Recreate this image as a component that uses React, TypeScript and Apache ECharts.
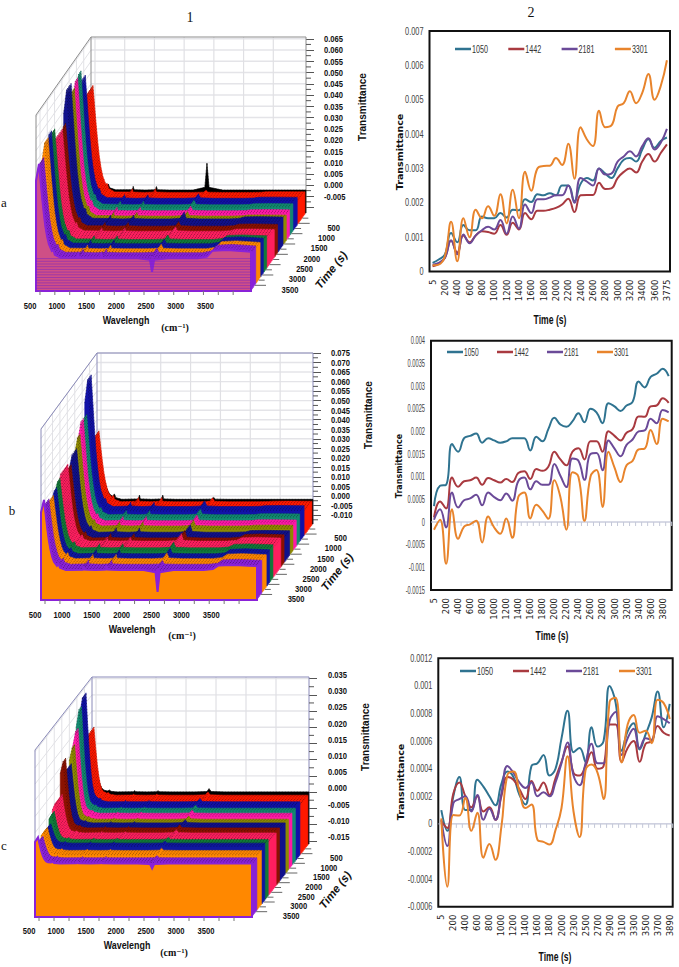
import React, { useEffect, useRef } from "react";
import * as echarts from "echarts";

// ---------- right-hand charts (values in 1e-3 transmittance) ----------
const NAMES = ["1050", "1442", "2181", "3301"];
const LINE_COLORS = ["#2f7390", "#a93a40", "#6b4a98", "#e8842c"];

const timeA = ["5","100","200","300","400","500","600","700","800","900","1000","1100","1200","1300","1400","1500","1600","1700","1800","1900","2000","2100","2200","2300","2400","2500","2600","2700","2800","2900","3000","3100","3200","3300","3400","3500","3600","3700","3775"];
const a1050 = [.25,.35,.5,1.12,.85,1.35,1.2,1.2,1.6,1.55,1.55,1.7,1.57,1.8,1.78,2.1,2.02,2.25,2.22,2.28,2.22,2.5,2.5,2.05,2.55,2.72,2.65,3.0,2.85,2.72,3.0,3.25,3.3,3.2,3.55,3.85,3.6,3.8,3.9];
const a1442 = [.15,.22,.4,.9,.55,1.05,.85,1.05,1.17,1.15,1.1,1.35,1.07,1.42,1.22,1.7,1.52,1.77,1.77,1.8,1.85,1.95,2.12,1.73,2.22,2.23,2.23,2.58,2.4,2.42,2.72,2.9,3.0,2.88,3.2,3.42,3.2,3.45,3.7];
const a2181 = [.2,.25,.4,.9,.5,1.08,.82,1.05,1.2,1.3,1.22,1.5,1.1,1.6,1.25,1.95,1.7,2.1,2.1,2.15,2.22,2.22,2.5,2.0,2.72,2.62,2.5,3.0,2.82,2.85,3.2,3.35,3.5,3.35,3.65,3.88,3.55,3.75,4.15];
const a3301 = [.18,.2,.45,1.45,.3,1.55,1.0,1.8,1.55,1.9,1.62,2.25,1.4,2.38,1.55,2.9,2.35,3.0,3.07,3.08,3.3,3.1,3.72,2.7,4.2,3.85,3.65,4.68,4.2,4.25,4.8,4.9,5.25,4.9,5.2,5.75,5.0,5.4,6.15];
const ticksRA = [0,.001,.002,.003,.004,.005,.006,.007];
const labelsRA = ["0","0.001","0.002","0.003","0.004","0.005","0.006","0.007"];

const timeB = ["5","100","200","300","400","500","600","700","800","900","1000","1100","1200","1300","1400","1500","1600","1700","1800","1900","2000","2100","2200","2300","2400","2500","2600","2700","2800","2900","3000","3100","3200","3300","3400","3500","3600","3700","3800","3900"];
const b1050 = [.35,.8,.82,1.72,1.55,1.85,1.9,1.95,1.75,1.85,1.8,1.75,1.78,1.85,1.85,1.85,1.58,1.88,1.78,2.05,2.3,2.15,2.1,2.22,2.4,2.2,2.5,2.42,2.18,2.62,2.55,2.45,2.57,2.65,3.1,2.97,3.2,3.27,3.38,3.22];
const b1442 = [.1,.45,.3,.98,.78,.9,.92,.98,.82,.97,.92,.87,.95,.88,1.08,1.12,.95,1.17,1.13,1.22,1.55,1.38,1.25,1.55,1.63,1.38,1.78,1.78,1.55,2.0,1.9,1.8,1.97,2.05,2.33,2.32,2.55,2.57,2.73,2.63];
const b2181 = [.05,.28,-.12,.65,.32,.48,.52,.6,.37,.65,.55,.48,.63,.47,.9,.98,.72,.9,.82,.82,1.28,1.02,.77,1.4,1.35,.93,1.5,1.52,1.14,1.8,1.62,1.45,1.7,1.82,2.0,2.02,2.28,2.18,2.47,2.42];
const b3301 = [-.17,.05,-.92,.28,-.37,-.1,-.05,.03,-.45,.12,-.12,-.26,.08,-.35,.55,.65,.08,.38,.25,.07,.92,.55,-.17,1.1,1.0,.03,1.0,1.15,.33,1.55,1.2,.88,1.25,1.35,1.6,1.62,2.03,1.72,2.28,2.22];
const ticksRB = [-.0015,-.001,-.0005,0,.0005,.001,.0015,.002,.0025,.003,.0035,.004];
const labelsRB = ["-0.0015","-0.001","-0.0005","0","0.0005","0.001","0.0015","0.002","0.0025","0.003","0.0035","0.004"];

const timeC = ["5","100","200","300","400","500","600","700","800","900","1000","1100","1200","1300","1400","1500","1600","1700","1800","1900","2000","2200","2300","2400","2500","2600","2700","2800","2900","3000","3100","3200","3300","3400","3500","3600","3700","3800","3890"];
const c1050 = [.1,-.05,.2,.34,.1,.1,.32,.27,.2,.135,.29,.38,.34,.21,.14,.42,.44,.5,.35,.4,.62,.82,.52,.55,.45,.7,.56,.6,1.0,.88,.53,.67,.73,.54,.65,.77,.96,.7,.87];
const c1442 = [.02,-.03,.22,.3,.2,.12,.2,.09,.12,.03,.2,.34,.32,.25,.18,.31,.24,.3,.21,.33,.45,.56,.37,.35,.42,.52,.4,.42,.72,.72,.45,.55,.6,.45,.58,.6,.71,.66,.64];
const c2181 = [.03,-.16,.15,.18,.2,.09,.21,.03,.11,.03,.22,.42,.37,.3,.26,.3,.2,.23,.2,.3,.44,.59,.35,.28,.44,.58,.44,.44,.75,.81,.5,.62,.69,.55,.62,.61,.78,.76,.73];
const c3301 = [.04,-.455,.065,.06,.19,-.05,.08,-.245,-.145,-.26,-.02,.355,.38,.235,.115,.14,-.115,-.13,-.15,-.045,.115,.49,.09,-.095,.39,.43,.37,.18,.885,.915,.445,.72,.79,.66,.675,.585,.9,.875,.76];
const ticksRC = [-.0006,-.0004,-.0002,0,.0002,.0004,.0006,.0008,.001,.0012];
const labelsRC = ["-0.0006","-0.0004","-0.0002","0","0.0002","0.0004","0.0006","0.0008","0.001","0.0012"];

// ---------- left-hand 3D waterfall charts ----------
const sliceTimes = [5,75,150,225,300,375,450,525,600,675,750,825,900,975,1050,1125,1200,1275,1350,1425,1500,1575,1650,1725,1800,1875,1950,2025,2100,2175,2250,2325,2400,2475,2550,2625,2700,2775,2850,2925,3000,3075,3150,3225,3300,3375,3450,3525,3600,3675,3750,3775];
const bandTimes = [5,75,600,830,1060,1300,1550,1890,2110,2640,2900,3130,3400,3775];
const bandColors = ["#000000","#ff1a00","#1212a8","#128a70","#ff1aa8","#8f8a00","#12128c","#8b1200","#ff2060","#127a3a","#1018a0","#ff8800","#8a22d8","#ff8800"];

const wave = [683,733,760,790,815,840,870,900,950,975,1000,1100,1380,1395,1410,1600,1770,1785,1800,2000,2400,2600,2635,2670,2900,3400,3560,3650,3900,4300];
const decayA = [.82,1,.82,.62,.47,.34,.23,.15,.07,.05,.03,.005,0,0,0,0,0,0,0,0,0,0,0,0,0,0,0,0,0,0];
const decayB = [.82,1,.8,.58,.42,.3,.19,.12,.05,.03,.02,0,0,0,0,0,0,0,0,0,0,0,0,0,0,0,0,0,0,0];
const decayC = [.82,1,.72,.45,.28,.16,.08,.05,.025,.02,.01,0,0,0,0,0,0,0,0,0,0,0,0,0,0,0,0,0,0,0];
const bumpShape = [0,0,0,0,0,0,0,0,.2,1,.2,0,.1,1,.1,0,.1,1,.1,0,0,0,0,0,0,0,0,0,0,0];
const spikeShape = [0,0,0,0,0,0,0,0,0,0,0,0,0,0,0,0,0,0,0,0,0,.1,1,.1,0,0,0,0,0,0];
const riseShape = [0,0,0,0,0,0,0,0,0,0,0,0,0,0,0,0,0,0,0,0,0,0,0,0,0,0,.2,.9,1,.8];

const wavelengthLabels = [500,1000,1500,2000,2500,3000,3500];
const wavelengthTicks = [750,1000,1250,1500,1750,2000,2250,2500,2750,3000,3250,3500,3750,4000];
const backLines = [750,1250,1750,2250,2750,3250,3750];
const timeLabels = [500,1000,1500,2000,2500,3000,3500];

const baseA = [-.0022,-.0026,-.0004,-.0005,-.0011,-.0014,-.0006,-.0004,-.0006,.0006,.0008,.0006,.0016,.0021];
const peakA = [.02,.045,.0544,.059,.058,.0556,.0596,.0453,.0449,.0498,.051,.05,.044,.044];
const spikeA = [.012,.001,.002,.002,.002,.002,.003,.002,.002,.002,.002,.002,.002,-.006];
const riseA = [0,.0003,.0005,.0005,.0005,.0005,.001,.001,.001,.002,.003,.0035,.0037,.0037];
const labelsA = [.065,.06,.055,.05,.045,.04,.035,.03,.025,.02,.015,.01,.005,0,-.005];
const ticksA = [.065,.06,.055,.05,.045,.04,.035,.03,.025,.02,.015,.01,.005,0,-.005,-.01];

const baseB = [-.0017,-.0022,.0008,-.0003,-.0011,-.0015,-.0024,-.0014,-.0007,.0013,.0006,.0004,.0006,.001];
const peakB = [.02,.035,.0699,.0523,.0525,.0467,.0415,.037,.0397,.0378,.0354,.0336,.0349,.0378];
const spikeB = [.001,.002,.003,.003,.003,.003,.004,.004,.004,.003,.003,.003,.002,-.0114];
const riseB = [0,.0003,.0005,.0005,.0005,.0005,.001,.002,.002,.002,.0026,.0026,.0026,.0026];
const labelsB = [.075,.07,.065,.06,.055,.05,.045,.04,.035,.03,.025,.02,.015,.01,.005,0,-.005,-.01];
const ticksB = [.075,.07,.065,.06,.055,.05,.045,.04,.035,.03,.025,.02,.015,.01,.005,0,-.005,-.01];

const baseC = [.0001,-.0005,.0006,.0004,.0002,-.0003,-.0001,.0006,.0004,.0015,.0017,.0008,.0003,.0005];
const peakC = [.009,.0205,.0342,.0318,.0264,.0228,.0182,.0221,.0123,.0102,.0077,.0079,.007,.0086];
const spikeC = [.001,.001,.001,.001,.001,.001,.001,.001,.001,.0007,.0007,.0007,.0007,-.0015];
const riseC = [0,0,0,0,0,0,0,0,0,0,0,0,0,0];
const labelsC = [.035,.03,.025,.02,.015,.01,.005,0,-.005,-.01,-.015];
const ticksC = [.035,.03,.025,.02,.015,.01,.005,0,-.005,-.01,-.015];

const SANS = "'Liberation Sans',sans-serif";
const SERIF = "'Liberation Serif','DejaVu Serif',serif";
const TMAX = 3775, WMIN = 683, WMAX = 4300;

const leftPanels = [
  { left: 91, top: 37, w: 215, h: 176, dx: -55, dy: 78, min: -0.01244, max: 0.0658, decay: decayA, base: baseA, peak: peakA, spike: spikeA, rise: riseA, bump: 0.0016, labels: labelsA, ticks: ticksA, margin: 18, labelDy: 0, front: "#cf4f86", wall: "#8c8c8c", wy: 306, hatch: true, minorStep: 0.0025 },
  { left: 97, top: 353, w: 216, h: 171, dx: -56, dy: 76, min: -0.0147, max: 0.075, decay: decayB, base: baseB, peak: peakB, spike: spikeB, rise: riseB, bump: 0.0022, labels: labelsB, ticks: ticksB, margin: 18, labelDy: 0, front: "#ff8800", wall: "#8a8ab8", wy: 615, hatch: false, minorStep: 0.0025 },
  { left: 92, top: 677, w: 217, h: 167, dx: -57, dy: 73, min: -0.016, max: 0.0355, decay: decayC, base: baseC, peak: peakC, spike: spikeC, rise: riseC, bump: 0.0004, labels: labelsC, ticks: ticksC, margin: 19, labelDy: -4, front: "#ff8800", wall: "#8a8ab8", wy: 931, hatch: false, minorStep: 0.0025 },
];

const rightPanels = [
  { left: 429.5, top: 31, w: 240.5, h: 240.5, times: timeA, data: [a1050, a1442, a2181, a3301], min: 0, max: 0.007, interval: 0.001, ticks: ticksRA, labels: labelsRA, ySx: 0.67, legendX: 455, legendY: 49, spacing: 53.3, legendSx: 0.65, zeroLine: false },
  { left: 431, top: 340.7, w: 240.7, h: 249.3, times: timeB, data: [b1050, b1442, b2181, b3301], min: -0.0015, max: 0.004, interval: 0.0005, ticks: ticksRB, labels: labelsRB, ySx: 0.52, legendX: 447, legendY: 352, spacing: 50, legendSx: 0.6, zeroLine: true },
  { left: 438.3, top: 658.3, w: 234.4, h: 248.4, times: timeC, data: [c1050, c1442, c2181, c3301], min: -0.0006, max: 0.0012, interval: 0.0002, ticks: ticksRC, labels: labelsRC, ySx: 0.66, legendX: 460, legendY: 671, spacing: 53, legendSx: 0.66, zeroLine: true },
];

const texts = [
  { t: "1", x: 190, y: 17, font: `14px ${SERIF}` },
  { t: "2", x: 531, y: 12, font: `14px ${SERIF}` },
  { t: "a", x: 4, y: 202, font: `13px ${SERIF}` },
  { t: "b", x: 12, y: 510, font: `13px ${SERIF}` },
  { t: "c", x: 4, y: 845, font: `13px ${SERIF}` },
  { t: "Wavelengh", x: 126, y: 320, sx: 0.85, font: `bold 10.5px ${SANS}` },
  { t: "Wavelengh", x: 132, y: 629, sx: 0.85, font: `bold 10.5px ${SANS}` },
  { t: "Wavelengh", x: 127, y: 945, sx: 0.85, font: `bold 10.5px ${SANS}` },
  { t: "(cm⁻¹)", x: 175, y: 327, font: `bold 10px ${SERIF}` },
  { t: "(cm⁻¹)", x: 182, y: 635, font: `bold 10px ${SERIF}` },
  { t: "(cm⁻¹)", x: 174, y: 952, font: `bold 10px ${SERIF}` },
  { t: "Time (s)", x: 331, y: 270, r: 0.9, font: `italic bold 11.5px ${SANS}` },
  { t: "Time (s)", x: 337, y: 572, r: 0.9, font: `italic bold 11.5px ${SANS}` },
  { t: "Time (s)", x: 335, y: 890, r: 0.9, font: `italic bold 11.5px ${SANS}` },
  { t: "Transmittance", x: 362, y: 107, r: 1.5708, font: `bold 10px ${SANS}` },
  { t: "Transmittance", x: 368, y: 415, r: 1.5708, font: `bold 10px ${SANS}` },
  { t: "Transmittance", x: 365, y: 737, r: 1.5708, font: `bold 10px ${SANS}` },
  { t: "Transmittance", x: 399, y: 152, r: 1.5708, font: `bold 9.5px 'DejaVu Sans',sans-serif` },
  { t: "Transmittance", x: 399, y: 466, r: 1.5708, font: `bold 8px 'DejaVu Sans',sans-serif` },
  { t: "Transmittance", x: 400, y: 782, r: 1.5708, font: `bold 9.5px 'DejaVu Sans',sans-serif` },
  { t: "Time (s)", x: 550, y: 320, sx: 0.72, font: `bold 12px ${SANS}` },
  { t: "Time (s)", x: 552, y: 636, sx: 0.72, font: `bold 12px ${SANS}` },
  { t: "Time (s)", x: 555, y: 957, sx: 0.72, font: `bold 12px ${SANS}` },
];

function bandOf(t: number) {
  let b = 0;
  for (let i = 0; i < bandTimes.length; i++) if (bandTimes[i] <= t) b = i;
  return b;
}

const line = (a: number[], b: number[], stroke: string, lineWidth = 1) => ({
  type: "line", shape: { x1: a[0], y1: a[1], x2: b[0], y2: b[1] }, style: { stroke, lineWidth },
});

function buildOption() {
  const grid: any[] = [], xAxis: any[] = [], yAxis: any[] = [], series: any[] = [];
  const graphic: any[] = [];

  leftPanels.forEach((p, i) => {
    grid.push({ left: p.left, top: p.top, width: p.w, height: p.h, show: false });
    xAxis.push({ type: "value", gridIndex: i, min: WMIN, max: WMAX, show: false });
    yAxis.push({
      type: "value", gridIndex: i, min: p.min, max: p.max, position: "right",
      axisLine: { show: false }, splitLine: { show: false },
      axisTick: { show: true, length: 8, customValues: p.ticks, lineStyle: { color: "#555", width: 1 } },
      axisLabel: { show: false },
    });
    const at = (api: any, w: number, t: number, z: number) => {
      const c = api.coord([w, z]);
      return [c[0] + (p.dx * t) / TMAX, c[1] + (p.dy * t) / TMAX];
    };
    const num = (text: string, x: number, y: number, align = "center") => ({
      type: "text", x, y, scaleX: 0.8,
      style: { text, fill: "#111", font: `bold 9.5px ${SANS}`, textAlign: align, textVerticalAlign: "middle" },
    });
    // walls, behind the spectra
    series.push({
      type: "custom", coordinateSystem: "cartesian2d", xAxisIndex: i, yAxisIndex: i, silent: true, z: 1,
      data: [[0, 0]], encode: { x: 0, y: 1 },
      renderItem: (_: any, api: any) => {
        const ch: any[] = [];
        p.ticks.forEach((z: number) => {
          ch.push(line(at(api, WMIN, 0, z), at(api, WMAX, 0, z), "#e4e4e8", 1.4));
          ch.push(line(at(api, WMIN, 0, z), at(api, WMIN, TMAX, z), "#e2e2e6", 1));
        });
        backLines.forEach((w) => ch.push(line(at(api, w, 0, p.min), at(api, w, 0, p.max), "#e0e0e4", 1.2)));
        timeLabels.forEach((t) =>
          ch.push(line(at(api, WMIN, t, p.min), at(api, WMIN, t, p.max), "#e2e2e6", 1)));
        ch.push(line(at(api, WMIN, 0, p.max), at(api, WMAX, 0, p.max), p.wall, 1));
        ch.push(line(at(api, WMAX, 0, p.max), at(api, WMAX, 0, p.min), p.wall, 1));
        ch.push(line(at(api, WMIN, 0, p.max), at(api, WMIN, 0, p.min), p.wall, 1));
        ch.push(line(at(api, WMIN, 0, p.max), at(api, WMIN, TMAX, p.max), p.wall, 1));
        ch.push(line(at(api, WMIN, TMAX, p.max), at(api, WMIN, TMAX, p.min), p.wall, 1));
        p.ticks.forEach((z: number) => {
          const zm = z - p.minorStep;
          if (zm > p.min) {
            const c = at(api, WMAX, 0, zm);
            ch.push(line(c, [c[0] + 5, c[1]], "#555", 1));
          }
        });
        p.labels.forEach((z: number) => {
          const c = at(api, WMAX, 0, z);
          ch.push(num(z.toFixed(3), c[0] + p.margin, c[1] + p.labelDy, "left"));
        });
        return { type: "group", children: ch };
      },
    });
    // spectra, back to front
    series.push({
      type: "custom", coordinateSystem: "cartesian2d", xAxisIndex: i, yAxisIndex: i, silent: true, z: 2,
      data: sliceTimes.map((_, k) => [k, 0]), encode: { x: 0, y: 1 },
      renderItem: (_: any, api: any) => {
        const t = sliceTimes[api.value(0)];
        const b = bandOf(t);
        const last = b === bandTimes.length - 1;
        const pts = wave.map((w, n) => {
          const z = p.base[b] + (p.peak[b] - p.base[b]) * p.decay[n] + p.bump * bumpShape[n] + p.spike[b] * spikeShape[n] + p.rise[b] * riseShape[n];
          return at(api, w, t, Math.max(z, p.min));
        });
        pts.push(at(api, WMAX, t, p.min));
        pts.push(at(api, WMIN, t, p.min));
        return {
          type: "group",
          children: [
            { type: "polygon", shape: { points: pts }, style: { fill: last ? p.front : bandColors[b], stroke: last ? "#8a22d8" : bandColors[b], lineWidth: last ? 2 : 0.6 } },
            { type: "polyline", shape: { points: pts.slice(0, wave.length) }, style: { fill: "none", stroke: last ? "#8a22d8" : "rgba(0,0,0,0.55)", lineWidth: 0.7, lineDash: last ? undefined : [1, 2] } },
          ],
        };
      },
    });
    // front details and the axes along the floor
    series.push({
      type: "custom", coordinateSystem: "cartesian2d", xAxisIndex: i, yAxisIndex: i, silent: true, z: 3,
      data: [[0, 0]], encode: { x: 0, y: 1 },
      renderItem: (_: any, api: any) => {
        const ch: any[] = [];
        if (p.hatch) {
          const bl = at(api, WMIN, TMAX, p.min), br = at(api, WMAX, TMAX, p.min);
          const top = at(api, WMIN, TMAX, p.base[13])[1];
          for (let y = bl[1] - 2.7; y > top; y -= 2.7) ch.push(line([bl[0], y], [br[0], y], "rgba(125,40,190,0.75)", 0.8));
        }
        wavelengthTicks.forEach((w) => {
          const c = at(api, w, TMAX, p.min);
          ch.push(line(c, [c[0], c[1] + 4], "#777", 1));
        });
        wavelengthLabels.forEach((w) => {
          const c = at(api, w, TMAX, p.min);
          ch.push(num(String(w), c[0] + (w === 500 ? 5 : 2), p.wy));
        });
        timeLabels.forEach((t) => {
          const c = at(api, WMAX, t, p.min);
          ch.push(line(c, [c[0] + 11, c[1]], "#666", 1));
          const m = at(api, WMAX, t - 250, p.min);
          ch.push(line(m, [m[0] + 6, m[1]], "#666", 1));
          ch.push(num(String(t), c[0] + 35, c[1] + 4));
        });
        return { type: "group", children: ch };
      },
    });
  });

  rightPanels.forEach((p, j) => {
    const i = j + 3;
    grid.push({ left: p.left, top: p.top, width: p.w, height: p.h, show: true, borderColor: "#111", borderWidth: 2, backgroundColor: "#fff" });
    xAxis.push({
      type: "category", gridIndex: i, data: p.times, boundaryGap: true,
      axisLine: { show: false, onZero: false }, axisTick: { show: false },
      axisLabel: {
        interval: (n: number) => n % 2 === 0, rotate: 90, margin: 8,
        color: "#222", fontSize: 8.5, fontFamily: "'DejaVu Sans',sans-serif",
      },
      splitLine: { show: false },
    });
    yAxis.push({
      type: "value", gridIndex: i, min: p.min, max: p.max, interval: p.interval,
      axisLine: { show: false }, axisTick: { show: false }, splitLine: { show: false }, axisLabel: { show: false },
    });
    // tick labels of the narrow y axis, and the zero line with its ticks
    series.push({
      type: "custom", coordinateSystem: "cartesian2d", xAxisIndex: i, yAxisIndex: i, silent: true, z: 3,
      data: [[0, 0]], encode: { x: 0, y: 1 },
      renderItem: (_: any, api: any) => {
        const ch: any[] = [];
        p.ticks.forEach((v: number, n: number) => {
          const c = api.coord([0, v]);
          ch.push({
            type: "text", x: p.left - 6, y: c[1], scaleX: p.ySx,
            style: { text: p.labels[n], fill: "#444", font: `11px ${SANS}`, textAlign: "right", textVerticalAlign: "middle" },
          });
        });
        if (p.zeroLine) {
          const a = api.coord([0, 0]), b = api.coord([p.times.length - 1, 0]);
          const half = api.size([1, 0])[0] / 2;
          ch.push(line([a[0] - half, a[1]], [b[0] + half, a[1]], "#b0b4cc", 1));
          p.times.forEach((_: string, n: number) => {
            const c = api.coord([n, 0]);
            ch.push(line([c[0] + half, c[1]], [c[0] + half, c[1] + 4], "#c4c8d8", 1));
          });
        }
        return { type: "group", children: ch };
      },
    });
    NAMES.forEach((name, s) => {
      series.push({
        type: "line", name, xAxisIndex: i, yAxisIndex: i, z: 4, smooth: 0.45, symbol: "none",
        data: p.data[s].map((v) => v / 1000),
        lineStyle: { color: LINE_COLORS[s], width: 2 }, itemStyle: { color: LINE_COLORS[s] },
      });
      const lx = p.legendX + s * p.spacing;
      graphic.push({ type: "line", z: 10, silent: true, shape: { x1: lx, y1: p.legendY, x2: lx + 16, y2: p.legendY }, style: { stroke: LINE_COLORS[s], lineWidth: 2.5 } });
      graphic.push({ type: "text", z: 10, silent: true, x: lx + 17, y: p.legendY, scaleX: p.legendSx, style: { text: name, fill: "#333", font: `11px ${SANS}`, textAlign: "left", textVerticalAlign: "middle" } });
    });
  });

  texts.forEach((g) => graphic.push({
    type: "text", x: g.x, y: g.y, rotation: g.r || 0, scaleX: g.sx || 1, z: 10, silent: true,
    style: { text: g.t, font: g.font, fill: "#111", textAlign: "center", textVerticalAlign: "middle" },
  }));

  return { animation: false, backgroundColor: "#fff", grid, xAxis, yAxis, series, graphic };
}

export default function App() {
  const ref = useRef<HTMLDivElement>(null);
  useEffect(() => {
    document.body.style.margin = "0";
    const chart = echarts.init(ref.current as HTMLDivElement, undefined, { renderer: "svg" });
    chart.setOption(buildOption() as any);
    return () => chart.dispose();
  }, []);
  return <div ref={ref} style={{ width: 679, height: 967 }} />;
}
